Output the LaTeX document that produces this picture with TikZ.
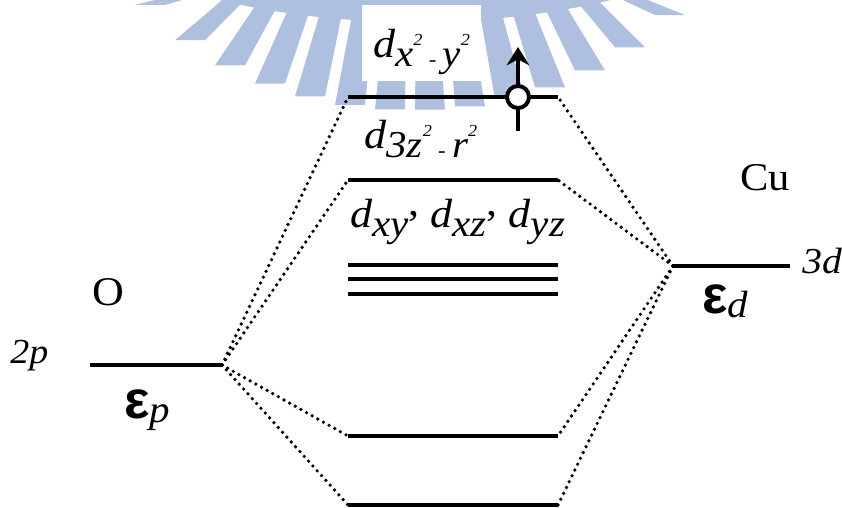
\documentclass[tikz,border=0pt]{standalone}
\usepackage{fontspec}
\setmainfont[FakeStretch=1.08]{Liberation Serif}
\newfontfamily\epsfont{Liberation Sans}
\usetikzlibrary{arrows.meta}
\definecolor{logoblue}{HTML}{AEBFDF}

% orbital labels
\newcommand{\sqr}{\raisebox{15pt}{\fontsize{12}{12}\selectfont 2}}
\newcommand{\dash}{\,{\fontsize{15}{15}\selectfont -}\,}
\newcommand{\dsub}[1]{{\itshape d}\raisebox{-7pt}{\fontsize{27}{29}\selectfont\itshape #1}}
\newcommand{\dcomma}{\raisebox{8pt}{,}}
\newcommand{\esub}[1]{{\epsfont\bfseries\fontsize{38}{38}\selectfont ε}\raisebox{-3pt}{\fontsize{27}{28}\selectfont\itshape #1}}

\begin{document}
\begin{tikzpicture}[
  x=0.025cm, y=-0.025cm,
  >={Stealth[length=13pt,width=16pt]},
  level/.style={line width=2.8pt},
  tie/.style={line width=2.6pt, line cap=round, dash pattern=on 0pt off 4.6pt},
  orblabel/.style={inner sep=0pt, anchor=base west, font=\fontsize{29}{30}\selectfont},
  atomlabel/.style={inner sep=0pt, anchor=base, font=\fontsize{#1}{30}\selectfont}
]
  \useasboundingbox (0,0) rectangle (842,507);

  % --- WATERMARK ---
  \begin{scope}
    \clip (0,0) rectangle (842,507);
    \fill[logoblue, even odd rule] (415,-150) ellipse [x radius=400, y radius=172]
                                   (415,-150) ellipse [x radius=400, y radius=150];
    \foreach \bx in {150,190,...,670}{
      \pgfmathsetmacro\bi{415+(\bx-415)*0.8}
      \pgfmathsetmacro\yi{-155+172*sqrt(1-((\bi-415)/400)^2)}
      \pgfmathsetmacro\yo{-150+260*sqrt(1-((\bx-415)/330)^2)}
      \fill[logoblue] (\bi-11,\yi) -- (\bi+11,\yi) -- (\bx+15,\yo) -- (\bx-15,\yo) -- cycle;
    }
  \end{scope}

  % --- LEVEL END POINTS ---
  \coordinate (oL) at (90,365);   \coordinate (oR) at (222,365);
  \coordinate (cuL) at (673,266); \coordinate (cuR) at (790,266);
  \coordinate (topL) at (348,97); \coordinate (topR) at (558,97);
  \coordinate (zL) at (348,180);  \coordinate (zR) at (558,180);
  \coordinate (bondL) at (348,436); \coordinate (bondR) at (558,436);
  \coordinate (lowL) at (348,505);  \coordinate (lowR) at (558,505);
  \coordinate (tA) at (348,265); \coordinate (tB) at (558,265);
  \coordinate (tC) at (348,279); \coordinate (tD) at (558,279);
  \coordinate (tE) at (348,294); \coordinate (tF) at (558,294);

  % Dotted ties
  \draw[tie] (oR) -- (topL);
  \draw[tie] (oR) -- (zL);
  \draw[tie] (oR) -- (bondL);
  \draw[tie] (oR) -- (lowL);
  \draw[tie] (cuL) -- (topR);
  \draw[tie] (cuL) -- (zR);
  \draw[tie] (cuL) -- (bondR);
  \draw[tie] (cuL) -- (lowR);

  % Levels
  \draw[level] (oL) -- (oR);
  \draw[level] (cuL) -- (cuR);
  \draw[level] (topL) -- (topR);
  \draw[level] (zL) -- (zR);
  \draw[level] (tA) -- (tB);
  \draw[level] (tC) -- (tD);
  \draw[level] (tE) -- (tF);
  \draw[level] (bondL) -- (bondR);
  \draw[level] (lowL) -- (lowR);

  % Hole and spin
  \coordinate (spinA) at (518,131);
  \coordinate (spinB) at (518,47);
  \draw[->, line width=2.8pt] (spinA) -- (spinB);
  \node[circle, draw, fill=white, line width=2.8pt, minimum size=0.55cm, inner sep=0pt] (hole) at (518,97) {};

  % --- LABELS ---
  \node[orblabel, fill=white, inner xsep=0.27cm, inner ysep=0.1cm, text height=1.2cm, text depth=0.5cm] (dx2) at (362,57) {\dsub{x\sqr\dash y\sqr}};
  \node[orblabel] (dz2) at (364,148) {\dsub{3z\sqr\dash r\sqr}};
  \node[orblabel] (dt2g) at (350,227) {\dsub{xy}\dcomma\ \dsub{xz}\dcomma\ \dsub{yz}};

  \node[atomlabel=29] (O) at (108,305) {O};
  \node[atomlabel=28] (Cu) at (765,190) {Cu};
  \node[atomlabel=25, anchor=base west] (twop) at (10,363) {\itshape 2p};
  \node[atomlabel=26, anchor=base west] (threed) at (802,273) {\itshape 3d};
  \node[orblabel] (ep) at (124,418) {\esub{p}};
  \node[orblabel] (ed) at (702,313) {\esub{d}};

\end{tikzpicture}
\end{document}
